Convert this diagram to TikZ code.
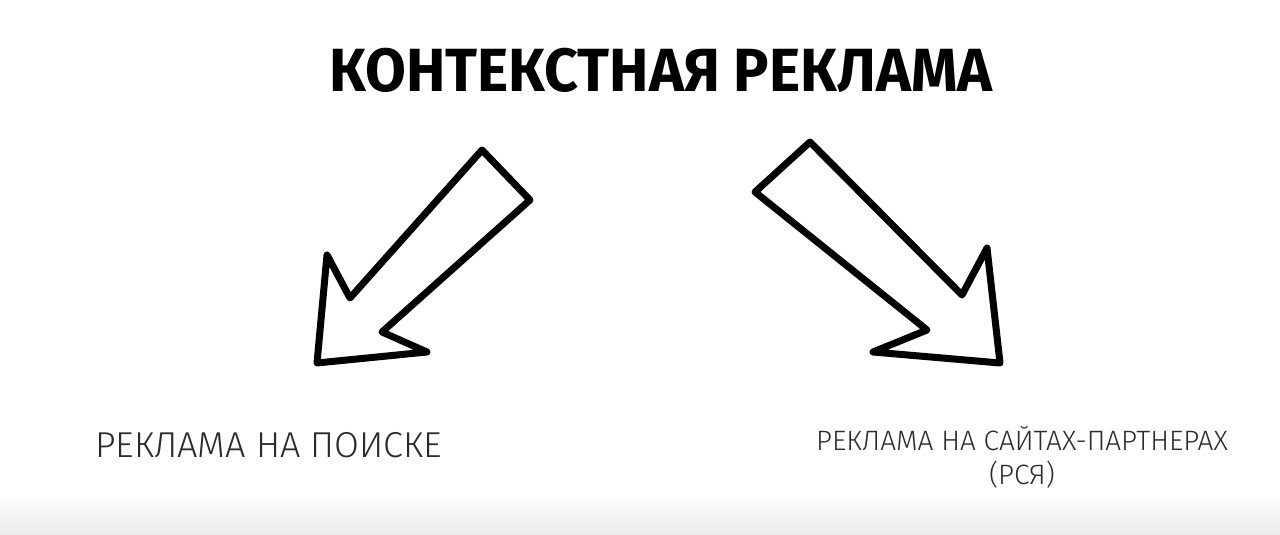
\documentclass[tikz,border=0pt]{standalone}
\usepackage{fontspec}
\setmainfont{Fira Sans}
\newfontfamily\titlefont[FakeStretch=0.97]{Fira Sans}
\newfontfamily\thinfont{Fira Sans Light}
\usetikzlibrary{positioning}

\definecolor{labelgray}{HTML}{2B2B2B}
\definecolor{floorgray}{HTML}{EBEBEB}

\tikzset{
  heading/.style = {font=\titlefont\bfseries\fontsize{61}{61}\selectfont, inner sep=0pt, anchor=base},
  branch/.style  = {font=\thinfont\fontsize{36}{40}\selectfont, text=labelgray, inner sep=0pt, anchor=base west},
  subbranch/.style = {font=\thinfont\fontsize{28}{34}\selectfont, text=labelgray, inner sep=0pt, align=center},
  blockarrow/.style = {draw=black, line width=7pt, line join=round, fill=white}
}

\begin{document}
\begin{tikzpicture}[x=1pt, y=-1pt]

	\useasboundingbox (0,0) rectangle (1280,535);
	\shade [top color=white, bottom color=floorgray] (0,495) rectangle (1280,535);

	\node [heading]		(title)		at (661,92)		{КОНТЕКСТНАЯ РЕКЛАМА};
	\node [branch]		(search)	at (95,457)		{РЕКЛАМА НА ПОИСКЕ};
	\node [subbranch, anchor=north]	(network)	at (1022,426)	{РЕКЛАМА НА САЙТАХ-ПАРТНЕРАХ\\(РСЯ)};

	% left arrow: to search ads
	\draw [blockarrow] (482,150) -- (530,200) -- (382,332) -- (427,352)
		-- (317,363) -- (327,255) -- (350,298) -- cycle;

	% right arrow: to partner sites
	\draw [blockarrow] (810,142) -- (755,192) -- (927,330) -- (873,352)
		-- (1000,363) -- (987,248) -- (962,295) -- cycle;

\end{tikzpicture}
\end{document}
